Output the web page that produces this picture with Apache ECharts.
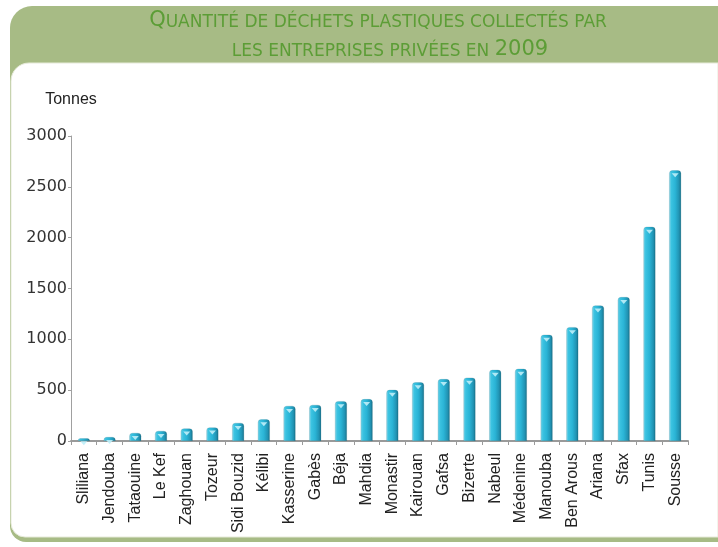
<!DOCTYPE html>
<html>
<head>
<meta charset="utf-8">
<script src="https://cdn.jsdelivr.net/npm/echarts@6/dist/echarts.min.js"></script>
<style>
  html, body { margin: 0; padding: 0; background: #ffffff; }
  #chart { width: 718px; height: 547px; }
</style>
</head>
<body>
<div id="chart"></div>
<script>
// Governorates, ordered from smallest to largest collected quantity
const categories = ['Sliliana', 'Jendouba', 'Tataouine', 'Le Kef', 'Zaghouan', 'Tozeur',
  'Sidi Bouzid', 'Kélibi', 'Kasserine', 'Gabès', 'Béja', 'Mahdia', 'Monastir', 'Kairouan',
  'Gafsa', 'Bizerte', 'Nabeul', 'Médenine', 'Manouba', 'Ben Arous', 'Ariana', 'Sfax',
  'Tunis', 'Sousse'];

// Plastic waste collected by private companies in 2009 (tonnes)
const tonnes = [26, 39, 79, 99, 124, 134, 178, 213, 345, 355, 392, 412, 503, 578,
  609, 623, 700, 710, 1045, 1120, 1334, 1416, 2107, 2663];

// Value axis ticks
const yTicks = [0, 500, 1000, 1500, 2000, 2500, 3000];

const titleLine1 = ['Q', 'UANTITÉ DE DÉCHETS PLASTIQUES COLLECTÉS PAR'];
const titleLine2 = ['LES ENTREPRISES PRIVÉES EN ', '2009'];
const unitLabel = 'Tonnes';

const chart = echarts.init(document.getElementById('chart'), null, { renderer: 'canvas' });

const green = '#a7bb85';
const titleGreen = '#5c9d36';
const titleFont = '"DejaVu Sans", sans-serif';

const cylinder = new echarts.graphic.LinearGradient(0, 0, 1, 0, [
  { offset: 0, color: '#8ad9ec' },
  { offset: 0.18, color: '#3cc3e1' },
  { offset: 0.5, color: '#2ab4d6' },
  { offset: 0.82, color: '#2193b3' },
  { offset: 1, color: '#186f88' }
]);

const titleRich = {
  big: { fontFamily: titleFont, fontWeight: 'normal', fontSize: 21, color: titleGreen, verticalAlign: 'bottom', lineHeight: 22 },
  small: { fontFamily: titleFont, fontWeight: 'normal', fontSize: 17, color: titleGreen, verticalAlign: 'bottom', lineHeight: 22 }
};

const option = {
  backgroundColor: '#ffffff',
  animation: false,
  graphic: [
    {
      type: 'rect', z: -10, silent: true,
      shape: { x: 10, y: 6, width: 708, height: 536, r: [22, 0, 0, 16] },
      style: { fill: green }
    },
    {
      type: 'rect', z: -9, silent: true,
      shape: { x: 11, y: 63, width: 707, height: 474, r: [18, 0, 0, 14] },
      style: { fill: '#ffffff', stroke: '#e6ead9', lineWidth: 1 }
    }
  ],
  title: [
    {
      left: 373, top: 4, textAlign: 'center',
      text: '{big|' + titleLine1[0] + '}{small|' + titleLine1[1] + '}',
      textStyle: { rich: titleRich }
    },
    {
      left: 385, top: 33, textAlign: 'center',
      text: '{small|' + titleLine2[0] + '}{big|' + titleLine2[1] + '}',
      textStyle: { rich: titleRich }
    }
  ],
  grid: { left: 71, right: 30, top: 136, bottom: 106, containLabel: false },
  xAxis: {
    type: 'category',
    data: categories,
    boundaryGap: true,
    axisLine: { show: true, lineStyle: { color: '#9a9a9a', width: 2 } },
    axisTick: { show: true, length: 4, alignWithLabel: false, lineStyle: { color: '#9a9a9a', width: 1 } },
    axisLabel: {
      interval: 0, rotate: 90, margin: 12,
      fontFamily: '"Liberation Sans", Arial, sans-serif', fontSize: 16, color: '#222222'
    },
    splitLine: { show: false }
  },
  yAxis: {
    type: 'value',
    min: yTicks[0], max: yTicks[yTicks.length - 1], interval: yTicks[1] - yTicks[0],
    name: unitLabel,
    nameLocation: 'end',
    nameGap: 28,
    nameTextStyle: { fontFamily: '"Liberation Sans", Arial, sans-serif', fontSize: 16, color: '#222222', align: 'center' },
    axisLine: { show: true, lineStyle: { color: '#a0a0a0', width: 1 } },
    axisTick: { show: true, length: 3, lineStyle: { color: '#a0a0a0' } },
    axisLabel: {
      margin: 4,
      formatter: (v) => String(v),
      fontFamily: '"DejaVu Sans", sans-serif', fontSize: 16, color: '#333333',
      padding: [0, 0, 5, 0]
    },
    splitLine: { show: false }
  },
  series: [
    {
      type: 'bar',
      data: tonnes,
      barWidth: 12,
      itemStyle: { color: cylinder, borderRadius: [3, 3, 0, 0], borderColor: 'rgba(20,90,110,0.35)', borderWidth: 0.5 },
      z: 2
    },
    {
      // light bevel highlight at the top of each bar
      type: 'pictorialBar',
      data: tonnes,
      symbol: 'triangle',
      symbolRotate: 180,
      symbolSize: [7, 4],
      symbolPosition: 'end',
      symbolOffset: [0, 3],
      itemStyle: { color: 'rgba(190,238,248,0.9)' },
      z: 3,
      silent: true
    }
  ]
};

chart.setOption(option);
</script>
</body>
</html>
